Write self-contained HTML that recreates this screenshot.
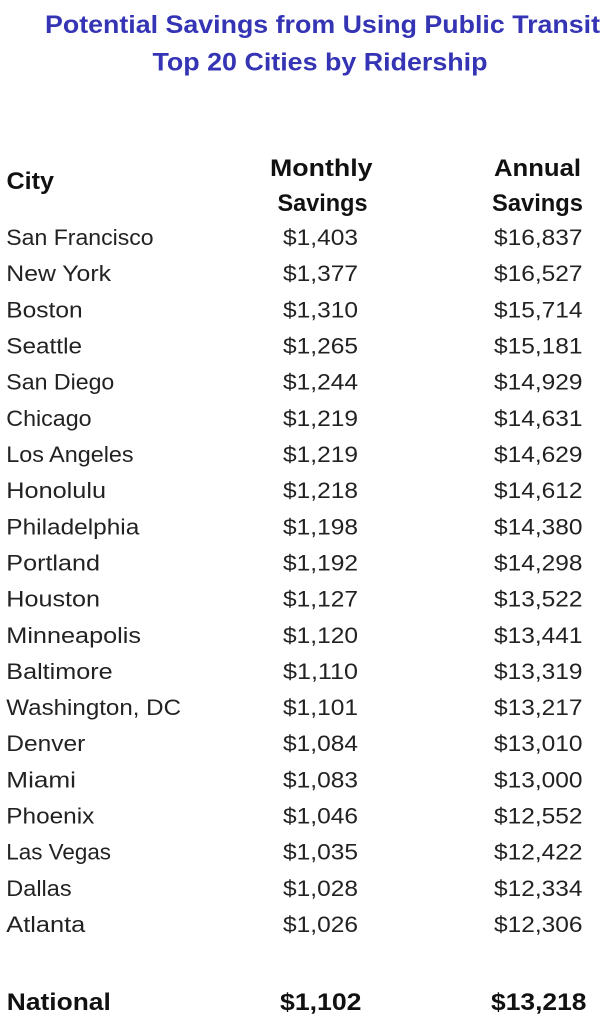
<!DOCTYPE html>
<html>
<head>
<meta charset="utf-8">
<style>
  html,body{margin:0;padding:0;background:#fff;}
  svg{display:block;}
  .t{font-family:"Liberation Sans",Arial,sans-serif;font-weight:bold;font-size:25px;fill:#3434b4;}
  .h{font-family:"Liberation Sans",Arial,sans-serif;font-weight:bold;font-size:24px;fill:#111;}
  .r{font-family:"Liberation Sans",Arial,sans-serif;font-size:22px;fill:#222;}
  .b{font-family:"Liberation Sans",Arial,sans-serif;font-weight:bold;font-size:24px;fill:#111;}
</style>
</head>
<body>
<svg width="611" height="1024" viewBox="0 0 611 1024" xmlns="http://www.w3.org/2000/svg">
  <rect width="611" height="1024" fill="#fff"/>
  <text class="t" x="45" y="33" textLength="555" lengthAdjust="spacingAndGlyphs">Potential Savings from Using Public Transit</text>
  <text class="t" x="152.5" y="70.5" textLength="335" lengthAdjust="spacingAndGlyphs">Top 20 Cities by Ridership</text>

  <text class="h" x="6.5" y="189" textLength="47.5" lengthAdjust="spacingAndGlyphs">City</text>
  <text class="h" x="270" y="176" textLength="102.5" lengthAdjust="spacingAndGlyphs">Monthly</text>
  <text class="h" x="277.5" y="211" textLength="90" lengthAdjust="spacingAndGlyphs">Savings</text>
  <text class="h" x="494" y="176" textLength="87" lengthAdjust="spacingAndGlyphs">Annual</text>
  <text class="h" x="492" y="211" textLength="91" lengthAdjust="spacingAndGlyphs">Savings</text>

  <g class="r">
    <text x="6.3" y="245" textLength="147.3" lengthAdjust="spacingAndGlyphs">San Francisco</text>
    <text x="283" y="245" textLength="75" lengthAdjust="spacingAndGlyphs">$1,403</text>
    <text x="494" y="245" textLength="88.5" lengthAdjust="spacingAndGlyphs">$16,837</text>

    <text x="6.3" y="281.2" textLength="104.7" lengthAdjust="spacingAndGlyphs">New York</text>
    <text x="283" y="281.2" textLength="75" lengthAdjust="spacingAndGlyphs">$1,377</text>
    <text x="494" y="281.2" textLength="88.5" lengthAdjust="spacingAndGlyphs">$16,527</text>

    <text x="6.3" y="317.3" textLength="76.3" lengthAdjust="spacingAndGlyphs">Boston</text>
    <text x="283" y="317.3" textLength="75" lengthAdjust="spacingAndGlyphs">$1,310</text>
    <text x="494" y="317.3" textLength="88.5" lengthAdjust="spacingAndGlyphs">$15,714</text>

    <text x="6.3" y="353.5" textLength="75.7" lengthAdjust="spacingAndGlyphs">Seattle</text>
    <text x="283" y="353.5" textLength="75" lengthAdjust="spacingAndGlyphs">$1,265</text>
    <text x="494" y="353.5" textLength="88.5" lengthAdjust="spacingAndGlyphs">$15,181</text>

    <text x="6.3" y="389.6" textLength="108" lengthAdjust="spacingAndGlyphs">San Diego</text>
    <text x="283" y="389.6" textLength="75" lengthAdjust="spacingAndGlyphs">$1,244</text>
    <text x="494" y="389.6" textLength="88.5" lengthAdjust="spacingAndGlyphs">$14,929</text>

    <text x="6.3" y="425.8" textLength="85.3" lengthAdjust="spacingAndGlyphs">Chicago</text>
    <text x="283" y="425.8" textLength="75" lengthAdjust="spacingAndGlyphs">$1,219</text>
    <text x="494" y="425.8" textLength="88.5" lengthAdjust="spacingAndGlyphs">$14,631</text>

    <text x="6.3" y="462" textLength="127.3" lengthAdjust="spacingAndGlyphs">Los Angeles</text>
    <text x="283" y="462" textLength="75" lengthAdjust="spacingAndGlyphs">$1,219</text>
    <text x="494" y="462" textLength="88.5" lengthAdjust="spacingAndGlyphs">$14,629</text>

    <text x="6.3" y="498.1" textLength="99.7" lengthAdjust="spacingAndGlyphs">Honolulu</text>
    <text x="283" y="498.1" textLength="75" lengthAdjust="spacingAndGlyphs">$1,218</text>
    <text x="494" y="498.1" textLength="88.5" lengthAdjust="spacingAndGlyphs">$14,612</text>

    <text x="6.3" y="534.3" textLength="133" lengthAdjust="spacingAndGlyphs">Philadelphia</text>
    <text x="283" y="534.3" textLength="75" lengthAdjust="spacingAndGlyphs">$1,198</text>
    <text x="494" y="534.3" textLength="88.5" lengthAdjust="spacingAndGlyphs">$14,380</text>

    <text x="6.3" y="570.4" textLength="93.7" lengthAdjust="spacingAndGlyphs">Portland</text>
    <text x="283" y="570.4" textLength="75" lengthAdjust="spacingAndGlyphs">$1,192</text>
    <text x="494" y="570.4" textLength="88.5" lengthAdjust="spacingAndGlyphs">$14,298</text>

    <text x="6.3" y="606.6" textLength="93.7" lengthAdjust="spacingAndGlyphs">Houston</text>
    <text x="283" y="606.6" textLength="75" lengthAdjust="spacingAndGlyphs">$1,127</text>
    <text x="494" y="606.6" textLength="88.5" lengthAdjust="spacingAndGlyphs">$13,522</text>

    <text x="6.3" y="642.8" textLength="134.7" lengthAdjust="spacingAndGlyphs">Minneapolis</text>
    <text x="283" y="642.8" textLength="75" lengthAdjust="spacingAndGlyphs">$1,120</text>
    <text x="494" y="642.8" textLength="88.5" lengthAdjust="spacingAndGlyphs">$13,441</text>

    <text x="6.3" y="678.9" textLength="106.3" lengthAdjust="spacingAndGlyphs">Baltimore</text>
    <text x="283" y="678.9" textLength="75" lengthAdjust="spacingAndGlyphs">$1,110</text>
    <text x="494" y="678.9" textLength="88.5" lengthAdjust="spacingAndGlyphs">$13,319</text>

    <text x="6.3" y="715.1" textLength="174.7" lengthAdjust="spacingAndGlyphs">Washington, DC</text>
    <text x="283" y="715.1" textLength="75" lengthAdjust="spacingAndGlyphs">$1,101</text>
    <text x="494" y="715.1" textLength="88.5" lengthAdjust="spacingAndGlyphs">$13,217</text>

    <text x="6.3" y="751.2" textLength="79" lengthAdjust="spacingAndGlyphs">Denver</text>
    <text x="283" y="751.2" textLength="75" lengthAdjust="spacingAndGlyphs">$1,084</text>
    <text x="494" y="751.2" textLength="88.5" lengthAdjust="spacingAndGlyphs">$13,010</text>

    <text x="6.3" y="787.4" textLength="69.7" lengthAdjust="spacingAndGlyphs">Miami</text>
    <text x="283" y="787.4" textLength="75" lengthAdjust="spacingAndGlyphs">$1,083</text>
    <text x="494" y="787.4" textLength="88.5" lengthAdjust="spacingAndGlyphs">$13,000</text>

    <text x="6.3" y="823.6" textLength="88" lengthAdjust="spacingAndGlyphs">Phoenix</text>
    <text x="283" y="823.6" textLength="75" lengthAdjust="spacingAndGlyphs">$1,046</text>
    <text x="494" y="823.6" textLength="88.5" lengthAdjust="spacingAndGlyphs">$12,552</text>

    <text x="6.3" y="859.7" textLength="104.7" lengthAdjust="spacingAndGlyphs">Las Vegas</text>
    <text x="283" y="859.7" textLength="75" lengthAdjust="spacingAndGlyphs">$1,035</text>
    <text x="494" y="859.7" textLength="88.5" lengthAdjust="spacingAndGlyphs">$12,422</text>

    <text x="6.3" y="895.9" textLength="65.3" lengthAdjust="spacingAndGlyphs">Dallas</text>
    <text x="283" y="895.9" textLength="75" lengthAdjust="spacingAndGlyphs">$1,028</text>
    <text x="494" y="895.9" textLength="88.5" lengthAdjust="spacingAndGlyphs">$12,334</text>

    <text x="6.3" y="932" textLength="79" lengthAdjust="spacingAndGlyphs">Atlanta</text>
    <text x="283" y="932" textLength="75" lengthAdjust="spacingAndGlyphs">$1,026</text>
    <text x="494" y="932" textLength="88.5" lengthAdjust="spacingAndGlyphs">$12,306</text>
  </g>

  <text class="b" x="6.8" y="1010" textLength="104" lengthAdjust="spacingAndGlyphs">National</text>
  <text class="b" x="280" y="1010" textLength="81.5" lengthAdjust="spacingAndGlyphs">$1,102</text>
  <text class="b" x="491" y="1010" textLength="95.5" lengthAdjust="spacingAndGlyphs">$13,218</text>
</svg>
</body>
</html>
